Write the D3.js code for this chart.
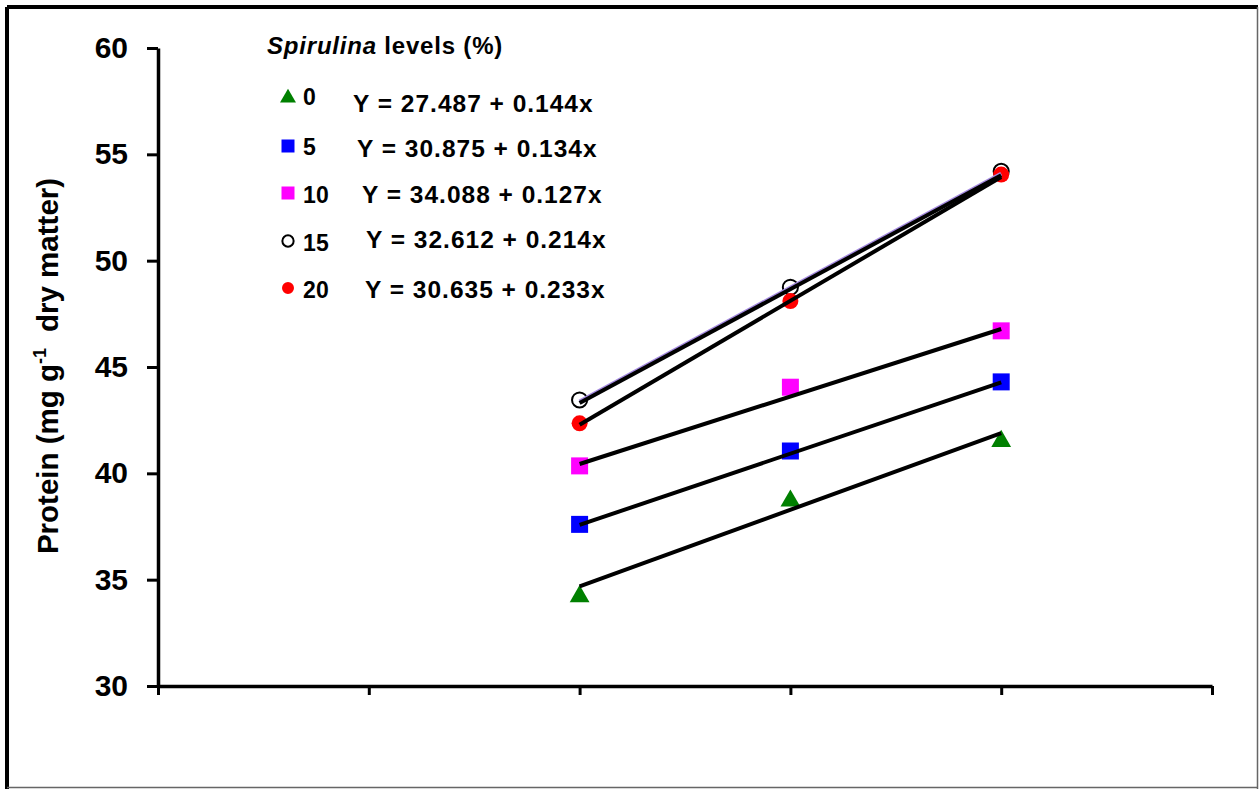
<!DOCTYPE html>
<html>
<head>
<meta charset="utf-8">
<script src="https://cdn.jsdelivr.net/npm/d3@7"></script>
<style>
  body { margin: 0; background: #fff; }
  svg text { font-family: "Liberation Sans", Arial, sans-serif; font-weight: bold; fill: #000; }
</style>
</head>
<body>
<div class="canvas"></div>
<script>
// data
const xValues = [50, 75, 100];
const levels = ['0', '5', '10', '15', '20'];
const protein0 = [34.3, 38.8, 41.6];
const protein5 = [37.6, 41.05, 44.3];
const protein10 = [40.35, 44.05, 46.7];
const protein15 = [43.45, 48.75, 54.2];
const protein20 = [42.35, 48.1, 54.05];
const intercepts = [27.487, 30.875, 34.088, 32.612, 30.635];
const slopes = [0.144, 0.134, 0.127, 0.214, 0.233];
const equations = [
  'Y = 27.487 + 0.144x',
  'Y = 30.875 + 0.134x',
  'Y = 34.088 + 0.127x',
  'Y = 32.612 + 0.214x',
  'Y = 30.635 + 0.233x'
];
const yTicks = [30, 35, 40, 45, 50, 55, 60];
const xTicks = [0, 25, 50, 75, 100, 125];

const seriesValues = [protein0, protein5, protein10, protein15, protein20];

const svgWidth = 1260;
const svgHeight = 789;

const svg = d3.select('.canvas')
  .append('svg')
    .attr('width', svgWidth)
    .attr('height', svgHeight);

// frame
svg.append('line').attr('x1', 7).attr('y1', 7).attr('x2', 1258).attr('y2', 7)
  .attr('stroke', '#000').attr('stroke-width', 4);
svg.append('line').attr('x1', 7).attr('y1', 7).attr('x2', 7).attr('y2', 789)
  .attr('stroke', '#000').attr('stroke-width', 4);
svg.append('line').attr('x1', 1257.5).attr('y1', 7).attr('x2', 1257.5).attr('y2', 789)
  .attr('stroke', '#666').attr('stroke-width', 1.5);
svg.append('line').attr('x1', 7).attr('y1', 787.5).attr('x2', 1258).attr('y2', 787.5)
  .attr('stroke', '#666').attr('stroke-width', 1.5);

const x = d3.scaleLinear().domain([0, 125]).range([158, 1212]);
const y = d3.scaleLinear().domain([30, 60]).range([686, 48]);

// axes
const yAxis = d3.axisLeft(y)
  .tickValues(yTicks)
  .tickSize(11)
  .tickSizeOuter(0)
  .tickPadding(19);

const xAxis = d3.axisBottom(x)
  .tickValues(xTicks)
  .tickSize(9)
  .tickSizeOuter(0)
  .tickFormat('');

const yAxisGroup = svg.append('g')
  .attr('transform', `translate(${x(0)},0)`)
  .call(yAxis);
const xAxisGroup = svg.append('g')
  .attr('transform', `translate(0,${y(30)})`)
  .call(xAxis);

[yAxisGroup, xAxisGroup].forEach(g => {
  g.select('.domain').attr('stroke', '#000').attr('stroke-width', 3.5);
  g.selectAll('.tick line').attr('stroke', '#000').attr('stroke-width', 3);
});
yAxisGroup.selectAll('.tick text')
  .style('font-size', '30px')
  .style('font-family', '"Liberation Sans", Arial, sans-serif')
  .style('font-weight', 'bold')
  .attr('fill', '#000');

// y axis title
const title = svg.append('text')
  .attr('transform', 'translate(58,366) rotate(-90)')
  .attr('text-anchor', 'middle')
  .style('font-size', '29.5px');
title.append('tspan').text('Protein (mg g');
title.append('tspan').attr('dy', -12).style('font-size', '18px').text('-1');
title.append('tspan').attr('dy', 12).attr('dx', 16).text('dry matter)');

// markers
const symbolFor = [
  d3.symbol().type(d3.symbolTriangle),
  d3.symbol().type(d3.symbolSquare),
  d3.symbol().type(d3.symbolSquare),
  d3.symbol().type(d3.symbolCircle),
  d3.symbol().type(d3.symbolCircle)
];
const fills = ['#008000', '#0000ff', '#ff00ff', 'none', '#ff0000'];
const strokes = ['none', 'none', 'none', '#000', 'none'];
const plotSizes = [170, 289, 289, 180, 201];
const legendSizes = [110, 169, 169, 100, 113];

const markGroup = svg.append('g');
seriesValues.forEach((vals, i) => {
  markGroup.selectAll(`.m${i}`)
    .data(vals.map((v, j) => ({ x: xValues[j], y: v })))
    .enter()
    .append('path')
      .attr('class', `m${i}`)
      .attr('d', symbolFor[i].size(plotSizes[i])())
      .attr('transform', d => `translate(${x(d.x)},${y(d.y) + (i === 0 ? 2 : 0)})`)
      .attr('fill', fills[i])
      .attr('stroke', strokes[i])
      .attr('stroke-width', 2);
});

// regression lines
const line = d3.line()
  .x(d => x(d.x))
  .y(d => y(d.y));

const lineGroup = svg.append('g');
intercepts.forEach((a, i) => {
  const pts = [xValues[0], xValues[xValues.length - 1]].map(v => ({ x: v, y: a + slopes[i] * v }));
  if (i === 3) {
    lineGroup.append('path')
      .datum(pts)
      .attr('d', line)
      .attr('transform', 'translate(0,-1.5)')
      .attr('fill', 'none')
      .attr('stroke', '#a58be0')
      .attr('stroke-width', 4);
  }
  lineGroup.append('path')
    .datum(pts)
    .attr('d', line)
    .attr('fill', 'none')
    .attr('stroke', '#000')
    .attr('stroke-width', 4);
});

// legend
const legend = svg.append('g');
const legTitle = legend.append('text')
  .attr('x', 267)
  .attr('y', 54)
  .style('font-size', '24px')
  .style('letter-spacing', '0.8px');
legTitle.append('tspan').style('font-style', 'italic').text('Spirulina');
legTitle.append('tspan').text(' levels (%)');

const rowY = [98, 146, 193, 241, 288];
const labelBase = [105, 155, 203, 251, 298];
const eqX = [353, 357, 362, 366, 365];
const eqBase = [112, 157, 203, 248, 298];

levels.forEach((lev, i) => {
  legend.append('path')
    .attr('d', symbolFor[i].size(legendSizes[i])())
    .attr('transform', `translate(288,${rowY[i]})`)
    .attr('fill', fills[i])
    .attr('stroke', strokes[i])
    .attr('stroke-width', 2);
  legend.append('text')
    .attr('x', 303)
    .attr('y', labelBase[i])
    .style('font-size', '23px')
    .style('letter-spacing', '0.3px')
    .text(lev);
  legend.append('text')
    .attr('x', eqX[i])
    .attr('y', eqBase[i])
    .style('font-size', '24.5px')
    .style('letter-spacing', '1px')
    .text(equations[i]);
});
</script>
</body>
</html>
